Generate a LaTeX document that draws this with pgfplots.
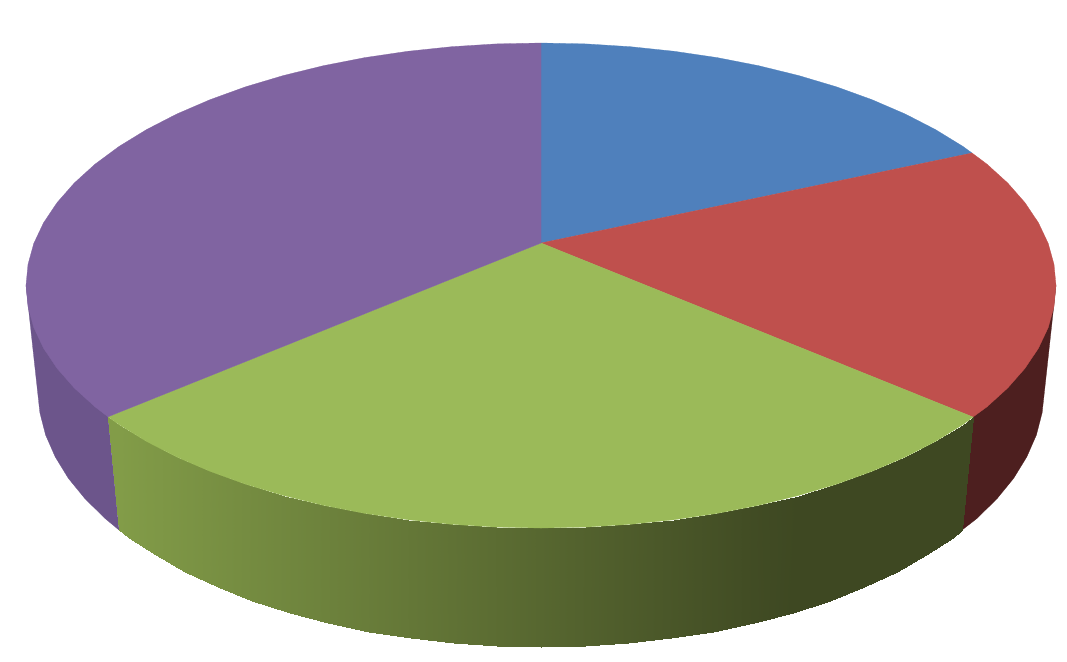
\documentclass[border=0pt]{standalone}
\usepackage{pgfplots}
\pgfplotsset{compat=1.18}
\definecolor{pblue}{HTML}{4F80BC}
\definecolor{pred}{HTML}{BF504D}
\definecolor{pgreen}{HTML}{9BBA59}
\definecolor{ppurple}{HTML}{8064A1}
\definecolor{sidepurple}{HTML}{6C558B}
\definecolor{sidered}{HTML}{4D1F1F}
\begin{document}
\begin{tikzpicture}
\begin{axis}[
  scale only axis, width=800pt, height=495.6pt,
  xmin=0, xmax=1067, ymin=0, ymax=661, y dir=reverse,
  hide axis, clip=false,
  colormap={side}{rgb255=(130,156,72) rgb255=(62,72,34)},
  point meta min=119, point meta max=785,
]
\fill[white] (axis cs:0,0) rectangle (axis cs:1067,661);
% side of the purple slice
\addplot[fill=sidepurple, draw=sidepurple, line width=0.2pt] coordinates {
 (26,285.5) (39.9,412.8) (45.6,434.9) (55.2,456.8) (68.3,478.2) (85.1,498.8) (105.4,518.7) (119,530) (108,416.8)
} --cycle;
% side of the red slice
\addplot[fill=sidered, draw=sidered, line width=0.2pt] coordinates {
 (1056,285.5) (1042.1,412.8) (1036.4,434.9) (1026.8,456.8) (1013.7,478.2) (996.9,498.8) (976.6,518.7) (962,530) (973,417)
} --cycle;
% side of the green slice
\addplot[patch, patch type=rectangle, shader=interp, point meta=explicit]
 table[x=x, y=y, meta=c] {
x y c
108 416.8 119
119 530 119
128.9 537.6 129
119.1 424.6 119
119.1 424.6 119
128.9 537.6 129
155.7 555.3 156
146.5 441.4 147
146.5 441.4 147
155.7 555.3 156
185.3 571.8 185
176.8 457.0 177
176.8 457.0 177
185.3 571.8 185
217.7 587.0 218
210 471.3 210
210 471.3 210
217.7 587.0 218
252.5 600.6 253
245.6 484.2 246
245.6 484.2 246
252.5 600.6 253
289.5 612.6 290
283.5 495.5 284
283.5 495.5 284
289.5 612.6 290
328.4 623.0 328
323.4 505.3 323
323.4 505.3 323
328.4 623.0 328
369 631.5 369
364.9 513.4 365
364.9 513.4 365
369 631.5 369
410.8 638.3 411
407.7 519.7 408
407.7 519.7 408
410.8 638.3 411
453.7 643.1 454
451.6 524.3 452
451.6 524.3 452
453.7 643.1 454
497.1 646 497
496.1 527.1 496
496.1 527.1 496
497.1 646 497
541 647 541
541 528 541
541 528 541
541 647 541
584.9 646 585
585.9 527.1 586
585.9 527.1 586
584.9 646 585
628.3 643.1 628
630.4 524.3 630
630.4 524.3 630
628.3 643.1 628
671.2 638.3 671
674.3 519.7 674
674.3 519.7 674
671.2 638.3 671
713 631.5 713
717.1 513.4 717
717.1 513.4 717
713 631.5 713
753.6 623 754
758.6 505.3 759
758.6 505.3 759
753.6 623 754
792.5 612.6 785
798.5 495.5 785
798.5 495.5 785
792.5 612.6 785
829.5 600.6 785
836.4 484.2 785
836.4 484.2 785
829.5 600.6 785
864.3 587 785
872 471.3 785
872 471.3 785
864.3 587 785
896.7 571.8 785
905.2 457 785
905.2 457 785
896.7 571.8 785
926.3 555.3 785
935.5 441.4 785
935.5 441.4 785
926.3 555.3 785
953.1 537.6 785
962.9 424.6 785
962.9 424.6 785
953.1 537.6 785
962 530 785
973 417 785
};
% top faces
\addplot[fill=pblue, draw=pblue, line width=0.2pt] coordinates {
 (541,243) (541,43) (585.9,43.9) (630.4,46.7) (674.3,51.3) (717.1,57.6) (758.6,65.7) (798.5,75.5) (836.4,86.8) (872,99.7) (905.2,114) (935.5,129.6) (962.9,146.4) (972,153)
} --cycle;
\addplot[fill=pred, draw=pred, line width=0.2pt] coordinates {
 (541,243) (972,153) (987,164.2) (1007.7,183) (1024.9,202.6) (1038.4,222.7) (1048.2,243.4) (1054,264.4) (1056,285.5) (1054,306.6) (1048.2,327.6) (1038.4,348.3) (1024.9,368.4) (1007.7,388) (987,406.8) (973,417)
} --cycle;
\addplot[fill=pgreen, draw=pgreen, line width=0.2pt] coordinates {
 (541,243) (973,417) (962.9,424.6) (935.5,441.4) (905.2,457) (872,471.3) (836.4,484.2) (798.5,495.5) (758.6,505.3) (717.1,513.4) (674.3,519.7) (630.4,524.3) (585.9,527.1) (541,528) (496.1,527.1) (451.6,524.3) (407.7,519.7) (364.9,513.4) (323.4,505.3) (283.5,495.5) (245.6,484.2) (210,471.3) (176.8,457) (146.5,441.4) (119.1,424.6) (108,416.8)
} --cycle;
\addplot[fill=ppurple, draw=ppurple, line width=0.2pt] coordinates {
 (541,243) (108,416.8) (95,406.8) (74.3,388) (57.1,368.4) (43.6,348.3) (33.8,327.6) (28,306.6) (26,285.5) (28,264.4) (33.8,243.4) (43.6,222.7) (57.1,202.6) (74.3,183) (95,164.2) (119.1,146.4) (146.5,129.6) (176.8,114) (210,99.7) (245.6,86.8) (283.5,75.5) (323.4,65.7) (364.9,57.6) (407.7,51.3) (451.6,46.7) (496.1,43.9) (541,43)
} --cycle;
\end{axis}
\end{tikzpicture}
\end{document}
